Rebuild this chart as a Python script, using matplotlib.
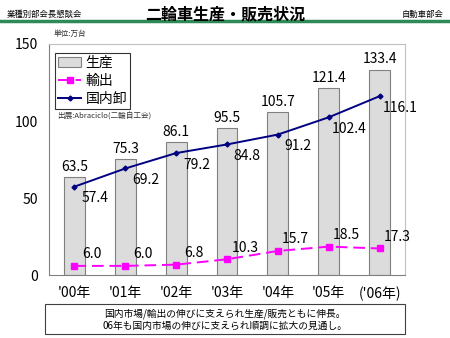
# 二輪車生産・販売状況 chart
import matplotlib
matplotlib.use('Agg')
import matplotlib.pyplot as plt
import numpy as np

plt.rcParams['font.family'] = ['Noto Sans CJK JP', 'DejaVu Sans']

years = ["'00年", "'01年", "'02年", "'03年", "'04年", "'05年", "('06年)"]
production = [63.5, 75.3, 86.1, 95.5, 105.7, 121.4, 133.4]
export = [6.0, 6.0, 6.8, 10.3, 15.7, 18.5, 17.3]
domestic = [57.4, 69.2, 79.2, 84.8, 91.2, 102.4, 116.1]

fig = plt.figure(figsize=(4.5, 3.38), dpi=100)

# header
fig.text(0.015, 0.958, '業種別部会長懇談会', fontsize=6, va='center')
fig.text(0.985, 0.958, '自動車部会', fontsize=6, va='center', ha='right')
fig.text(0.5, 0.958, '二輪車生産・販売状況', fontsize=11.5, va='center', ha='center', weight='bold')
fig.add_artist(plt.Line2D([0, 1], [0.937, 0.937], color='#2e8b57', lw=2.5))

ax = fig.add_axes([0.109, 0.186, 0.791, 0.684])
x = np.arange(len(years))
b = ax.bar(x, production, width=0.41, color='#dcdcdc', edgecolor='#808080', lw=0.8, zorder=2)
l1, = ax.plot(x, export, color='#ff00ff', ls=(0, (6, 3)), lw=1.4, marker='s', ms=4, zorder=3)
l2, = ax.plot(x, domestic, color='#000080', lw=1.4, marker='D', ms=2.5, zorder=3)

for i in range(len(years)):
    ax.text(x[i], production[i] + 2, f'{production[i]:.1f}', ha='center', va='bottom', fontsize=10)
    ax.text(x[i] + 0.35, export[i] + 3, f'{export[i]:.1f}', ha='center', va='bottom', fontsize=10)
    ax.text(x[i] + 0.4, domestic[i] - 3, f'{domestic[i]:.1f}', ha='center', va='top', fontsize=10)

ax.set_xlim(-0.5, len(years) - 0.5)
ax.set_ylim(0, 150)
ax.set_yticks([0, 50, 100, 150])
ax.set_xticks(x)
ax.set_xticklabels(years)
ax.tick_params(length=0, labelsize=10, pad=8)
ax.set_yticks([50, 100], minor=True)
ax.yaxis.grid(True, which='minor', color='#808080', lw=0.8, zorder=0)
for s in ['top', 'right']:
    ax.spines[s].set_color('#c0c0c0')
for s in ['left', 'bottom']:
    ax.spines[s].set_color('#808080')

leg = ax.legend([b, l1, l2], ['生産', '輸出', '国内卸'], loc='upper left',
                bbox_to_anchor=(0.017, 0.962), fontsize=10, frameon=True,
                fancybox=False, edgecolor='black', handlelength=1.7, borderpad=0.2,
                labelspacing=0.3, handletextpad=0.3, borderaxespad=0)
leg.get_frame().set_linewidth(0.8)

ax.text(0.022, 0.675, '出展:Abraciclo(二輪自工会)', transform=ax.transAxes, fontsize=5.5, color='#333333')
fig.text(0.118, 0.893, '単位:万台', fontsize=5.5, color='#333333')

# footer box
fig.text(0.5, 0.055, '国内市場/輸出の伸びに支えられ生産/販売ともに伸長。\n06年も国内市場の伸びに支えられ順調に拡大の見通し。',
         ha='center', va='center', fontsize=7, linespacing=1.2)
fig.add_artist(plt.Rectangle((0.1, 0.012), 0.8, 0.09, fill=False, edgecolor='#404040', lw=0.8,
                             transform=fig.transFigure))

fig.savefig('out.png', dpi=100)
